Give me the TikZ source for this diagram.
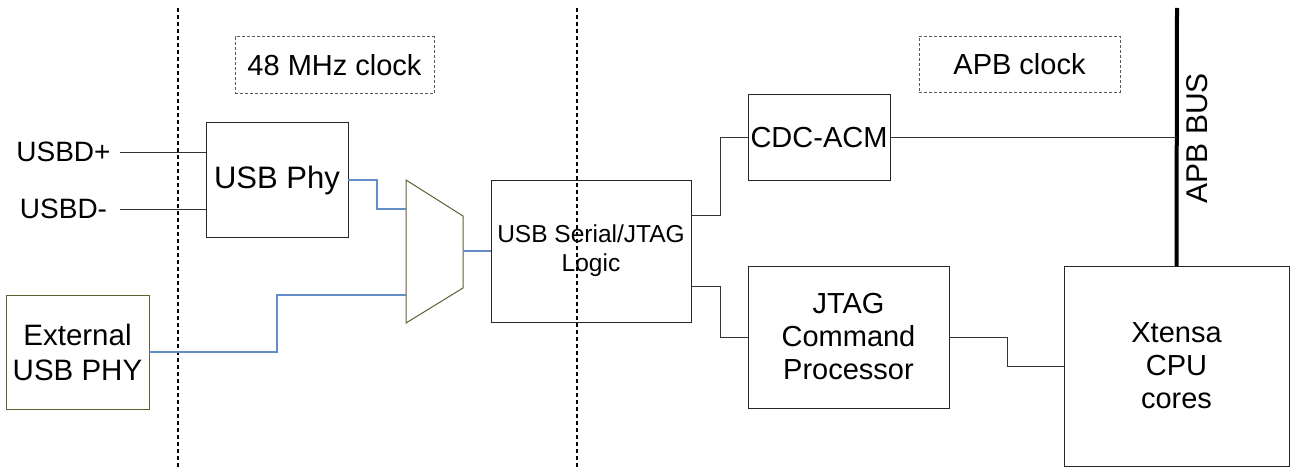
\documentclass[tikz,border=0pt]{standalone}
\usepackage{fontspec}
\setmainfont{Liberation Sans}
\definecolor{muxc}{RGB}{98,94,52}
\definecolor{usbblue}{RGB}{100,140,200}
\begin{document}
\begin{tikzpicture}[x=1pt,y=-1pt,
  font=\fontsize{29}{33}\selectfont,
  box/.style={draw=black!85, line width=1pt, inner sep=0pt, outer sep=0pt, align=center},
  clk/.style={draw=black!65, dash pattern=on 3pt off 2pt, line width=1pt, inner sep=0pt, outer sep=0pt},
  wire/.style={line width=1pt, black!80},
  bwire/.style={line width=1.2pt, usbblue},
  sep/.style={line width=1.1pt, dash pattern=on 4pt off 3pt},
  lbl/.style={inner sep=0pt, font=\fontsize{28}{33}\selectfont}]
\useasboundingbox (0,0) rectangle (1295,468);

% separators
\coordinate (s1t) at (178,8);
\coordinate (s1b) at (178,468);
\coordinate (s2t) at (577,8);
\coordinate (s2b) at (577,468);
\draw[sep] (s1t) -- (s1b);
\draw[sep] (s2t) -- (s2b);

% clock domain labels
\node[clk, minimum width=199pt, minimum height=57pt] (c48) at (334.5,65.5) {48 MHz clock};
\node[clk, minimum width=201pt, minimum height=56pt] (capb) at (1019.5,64.5) {APB clock};

% blocks
\node[box, minimum width=142pt, minimum height=114pt, font=\fontsize{31}{35}\selectfont] (phy) at (277,180) {USB Phy};
\node[box, draw=muxc, minimum width=143pt, minimum height=114pt, font=\fontsize{29.5}{35}\selectfont] (ext) at (77.5,352) {External\\USB PHY};
\node[box, minimum width=200pt, minimum height=142pt, font=\fontsize{24.5}{29}\selectfont] (logic) at (591,251) {USB Serial/JTAG\\Logic};
\node[box, minimum width=142pt, minimum height=85pt] (cdc) at (819,137.5) {CDC-ACM};
\node[box, minimum width=201pt, minimum height=142pt] (jcp) at (848.5,337) {JTAG\\Command\\Processor};
\node[box, minimum width=225pt, minimum height=200pt] (xt) at (1176.5,366) {Xtensa\\CPU\\cores};

% USB data lines
\node[lbl] (dp) at (63.5,152) {USBD+};
\node[lbl] (dm) at (63.5,209) {USBD-};
\coordinate (dpin) at (120,152);
\coordinate (dmin) at (120,209);
\draw[wire] (dpin) -- (dpin -| phy.west);
\draw[wire] (dmin) -- (dmin -| phy.west);

% mux
\coordinate (m1) at (406,180);
\coordinate (m2) at (463,216);
\coordinate (m3) at (463,288);
\coordinate (m4) at (406,323);
\draw[muxc, line width=1pt, line join=miter] (m1) -- (m2) -- (m3) -- (m4) -- cycle;
\coordinate (min1) at (406,209);
\coordinate (min2) at (406,295);
\coordinate (mout) at (463,251);

\draw[bwire] (phy.east) -- ++(29,0) |- (min1);
\draw[bwire] (ext.east) -- ++(128,0) |- (min2);
\draw[bwire] (mout) -- (logic.west);

% right side connections
\draw[wire] ([yshift=-35pt]logic.north east) -- ++(29,0) |- (cdc.west);
\draw[wire] ([yshift=36pt]logic.south east) -- ++(29,0) |- (jcp.west);
\draw[wire] (jcp.east) -- ++(58,0) |- (xt.west);

% APB bus
\coordinate (bustop) at (1177,8);
\draw[line width=4pt] (bustop) -- (xt.north);
\draw[wire] (cdc.east) -- (cdc.east -| bustop);
\node[rotate=90, inner sep=0pt, font=\fontsize{30}{33}\selectfont] (apb) at (1197,138) {APB BUS};
\end{tikzpicture}
\end{document}
